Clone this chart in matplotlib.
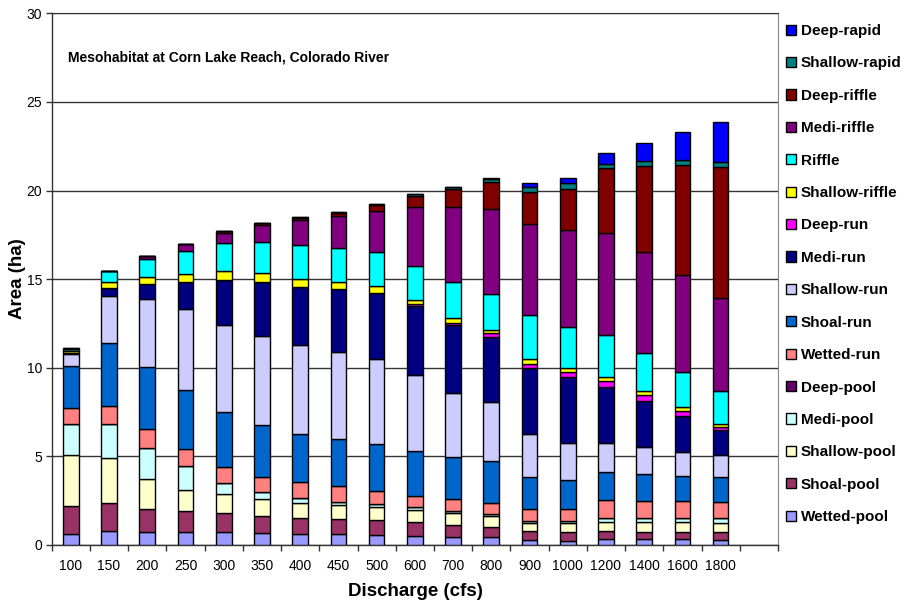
import matplotlib
matplotlib.use("Agg")
import matplotlib.pyplot as plt
from matplotlib.patches import Patch
import numpy as np

plt.rcParams['font.family'] = ['Liberation Sans', 'DejaVu Sans']

discharge = ["100", "150", "200", "250", "300", "350", "400", "450", "500",
             "600", "700", "800", "900", "1000", "1200", "1400", "1600", "1800"]

wetted_pool   = [0.64, 0.81, 0.75, 0.73, 0.72, 0.66, 0.60, 0.60, 0.56, 0.53, 0.47, 0.43, 0.28, 0.25, 0.32, 0.32, 0.32, 0.28]
shoal_pool    = [1.56, 1.58, 1.30, 1.17, 1.10, 1.00, 0.94, 0.87, 0.85, 0.79, 0.66, 0.60, 0.51, 0.47, 0.47, 0.43, 0.43, 0.44]
shallow_pool  = [2.90, 2.54, 1.65, 1.20, 1.06, 0.92, 0.85, 0.79, 0.72, 0.65, 0.66, 0.61, 0.47, 0.50, 0.53, 0.53, 0.53, 0.50]
medi_pool     = [1.75, 1.90, 1.79, 1.37, 0.60, 0.39, 0.28, 0.18, 0.18, 0.16, 0.13, 0.11, 0.11, 0.12, 0.22, 0.22, 0.26, 0.28]
deep_pool     = [0.00, 0.00, 0.00, 0.00, 0.00, 0.00, 0.00, 0.00, 0.00, 0.00, 0.00, 0.00, 0.00, 0.00, 0.00, 0.00, 0.00, 0.00]
wetted_run    = [0.90, 1.03, 1.03, 0.93, 0.94, 0.89, 0.87, 0.87, 0.75, 0.65, 0.66, 0.64, 0.66, 0.67, 1.00, 1.00, 0.94, 0.94]
shoal_run     = [2.35, 3.56, 3.50, 3.34, 3.10, 2.89, 2.74, 2.65, 2.64, 2.54, 2.40, 2.35, 1.83, 1.66, 1.56, 1.50, 1.43, 1.42]
shallow_run   = [0.70, 2.62, 3.85, 4.55, 4.89, 5.05, 4.98, 4.91, 4.77, 4.27, 3.62, 3.33, 2.38, 2.07, 1.64, 1.51, 1.35, 1.22]
medi_run      = [0.05, 0.46, 0.85, 1.53, 2.57, 3.02, 3.31, 3.59, 3.76, 3.91, 3.81, 3.69, 3.72, 3.75, 3.16, 2.63, 2.02, 1.41]
deep_run      = [0.00, 0.00, 0.00, 0.00, 0.00, 0.00, 0.00, 0.00, 0.00, 0.10, 0.13, 0.19, 0.23, 0.28, 0.35, 0.32, 0.28, 0.15]
shallow_riffle= [0.10, 0.32, 0.40, 0.48, 0.49, 0.50, 0.45, 0.36, 0.37, 0.22, 0.28, 0.18, 0.28, 0.22, 0.24, 0.24, 0.21, 0.18]
riffle        = [0.13, 0.62, 1.01, 1.30, 1.56, 1.77, 1.88, 1.91, 1.92, 1.95, 2.00, 2.01, 2.50, 2.33, 2.35, 2.15, 1.97, 1.87]
medi_riffle   = [0.00, 0.00, 0.15, 0.38, 0.58, 0.96, 1.43, 1.83, 2.33, 3.31, 4.23, 4.79, 5.13, 5.48, 5.74, 5.67, 5.51, 5.27]
deep_riffle   = [0.00, 0.00, 0.02, 0.02, 0.09, 0.09, 0.11, 0.18, 0.31, 0.61, 1.04, 1.57, 1.83, 2.31, 3.67, 4.89, 6.20, 7.38]
shallow_rapid = [0.05, 0.03, 0.00, 0.00, 0.00, 0.00, 0.06, 0.06, 0.09, 0.14, 0.11, 0.16, 0.27, 0.29, 0.22, 0.25, 0.26, 0.26]
deep_rapid    = [0.00, 0.00, 0.00, 0.00, 0.00, 0.00, 0.00, 0.00, 0.00, 0.00, 0.00, 0.04, 0.23, 0.28, 0.62, 1.05, 1.60, 2.27]

series = [
    ("Wetted-pool", wetted_pool, "#9999FF"),
    ("Shoal-pool", shoal_pool, "#993366"),
    ("Shallow-pool", shallow_pool, "#FFFFCC"),
    ("Medi-pool", medi_pool, "#CCFFFF"),
    ("Deep-pool", deep_pool, "#660066"),
    ("Wetted-run", wetted_run, "#FF8080"),
    ("Shoal-run", shoal_run, "#0066CC"),
    ("Shallow-run", shallow_run, "#CCCCFF"),
    ("Medi-run", medi_run, "#000080"),
    ("Deep-run", deep_run, "#FF00FF"),
    ("Shallow-riffle", shallow_riffle, "#FFFF00"),
    ("Riffle", riffle, "#00FFFF"),
    ("Medi-riffle", medi_riffle, "#800080"),
    ("Deep-riffle", deep_riffle, "#800000"),
    ("Shallow-rapid", shallow_rapid, "#008080"),
    ("Deep-rapid", deep_rapid, "#0000FF"),
]

fig = plt.figure(figsize=(9.05, 6.06), dpi=100)
ax = fig.add_axes([51.7/905, 61/606, (778-51.7)/905, (545-13.3)/606])

x = np.arange(len(discharge))
bottom = np.zeros(len(discharge))
for name, vals, col in series:
    v = np.array(vals)
    ax.bar(x, v, width=0.41, bottom=bottom, color=col, edgecolor="black",
           linewidth=1.0, zorder=3)
    bottom += v

ax.set_xlim(-0.5, len(discharge) + 0.5)
ax.set_ylim(0, 30)
ax.set_yticks(np.arange(0, 31, 5))
ax.yaxis.grid(True, color="#333333", linewidth=1.0, zorder=0)
ax.set_axisbelow(True)

ax.set_xticks(x)
ax.set_xticklabels(discharge, fontsize=10)
ax.set_xticks(np.arange(-0.5, len(discharge) + 0.6, 1.0), minor=True)
ax.tick_params(axis="x", which="major", length=0, pad=10)
ax.tick_params(axis="x", which="minor", length=4, width=1.0, direction="out", color="#333333")
ax.tick_params(axis="y", length=4, width=1.0, direction="out", labelsize=10, color="#333333", pad=3)

for s in ["left", "bottom"]:
    ax.spines[s].set_color("#333333")
    ax.spines[s].set_linewidth(1.0)
ax.spines["top"].set_color("#333333")
ax.spines["right"].set_color("#888888")

fig.text(415/905, 1 - 592/606, "Discharge (cfs)", fontsize=13.5, fontweight="bold",
         ha="center", va="center")
fig.text(17/905, 1 - 279/606, "Area (ha)", fontsize=13.5, fontweight="bold",
         ha="center", va="center", rotation=90)

fig.text(68/905, 1 - 58/606, "Mesohabitat at Corn Lake Reach, Colorado River",
         fontsize=10, fontweight="bold", va="center", ha="left")

handles = [Patch(facecolor=col, edgecolor="black", linewidth=1.0, label=name)
           for name, vals, col in series][::-1]
leg = fig.legend(handles=handles, loc="upper left", bbox_to_anchor=(786/905, 1 - 24/606),
                 frameon=False, prop={"weight": "bold", "size": 11},
                 labelspacing=1.205, handlelength=0.65, handleheight=0.65,
                 handletextpad=0.3, borderaxespad=0, borderpad=0)

fig.savefig("out.png", dpi=100)
